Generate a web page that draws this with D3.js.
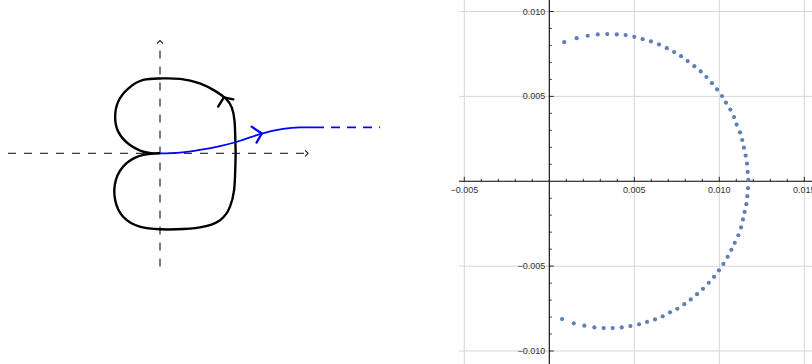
<!DOCTYPE html>
<html>
<head>
<meta charset="utf-8">
<script src="https://cdn.jsdelivr.net/npm/d3@7"></script>
<style>
  body { margin: 0; background: #fff; }
  svg { display: block; }
  .tick-label { font-family: 'Liberation Sans', Arial, sans-serif; font-size: 9px; fill: #333; }
</style>
</head>
<body>
<div id="chart"></div>
<script>
// SVG area dimensions
var svgWidth = 812;
var svgHeight = 364;

// Left sketch: closed black contour (x, y in sketch units)
var contourX = [0, -0.35, -0.79, -1.10, -1.18, -1.10, -0.83, -0.44, 0, 0.53, 1.05, 1.47, 1.74, 1.89, 1.96, 1.98,
  1.99, 1.98, 1.95, 1.84, 1.58, 1.05, 0.44, 0, -0.53, -0.97, -1.18, -1.16, -0.88, -0.44, 0];
var contourY = [0, 0.02, 0.22, 0.57, 0.96, 1.36, 1.71, 1.93, 1.97, 1.96, 1.84, 1.63, 1.43, 1.20, 0.86, 0.44,
  0, -0.44, -0.97, -1.41, -1.76, -1.95, -2.0, -2.0, -1.93, -1.67, -1.23, -0.70, -0.26, -0.04, 0];

// blue path leaving the origin
var pathX = [0, 0.53, 1.05, 1.58, 2.11, 2.68, 3.24, 3.68, 4.08];
var pathY = [0, 0.02, 0.09, 0.19, 0.33, 0.52, 0.64, 0.68, 0.68];
var pathTailX = [4.08, 5.79];
var pathTailY = [0.68, 0.68];

// arrow chevrons (arm, apex, arm)
var contourArrowX = [1.53, 1.68, 1.93];
var contourArrowY = [1.23, 1.47, 1.42];
var pathArrowX = [2.41, 2.68, 2.54];
var pathArrowY = [0.70, 0.52, 0.28];

// sketch axes extent
var sketchAxisX = [-4.0, 3.87];
var sketchAxisY = [-2.98, 2.94];

// Right plot: sampled points
var pointX = [0.00088, 0.00161, 0.00226, 0.00285, 0.00341, 0.00397, 0.00449, 0.00500, 0.00549, 0.00598,
  0.00645, 0.00691, 0.00734, 0.00775, 0.00814, 0.00853, 0.00891, 0.00924, 0.00957, 0.00987,
  0.01016, 0.01039, 0.01065, 0.01087, 0.01102, 0.01122, 0.01135, 0.01145, 0.01155, 0.01163,
  0.01167, 0.01171, 0.01169, 0.01165, 0.01159, 0.01149, 0.01139, 0.01128, 0.01112, 0.01091,
  0.01071, 0.01049, 0.01024, 0.00998, 0.00969, 0.00938, 0.00904, 0.00869, 0.00832, 0.00794,
  0.00753, 0.00710, 0.00667, 0.00622, 0.00575, 0.00528, 0.00477, 0.00426, 0.00373, 0.00320,
  0.00265, 0.00206, 0.00144, 0.00075];
var pointY = [0.00819, 0.00843, 0.00857, 0.00865, 0.00867, 0.00865, 0.00861, 0.00851, 0.00837, 0.00824,
  0.00806, 0.00784, 0.00761, 0.00737, 0.00708, 0.00678, 0.00647, 0.00614, 0.00578, 0.00541,
  0.00502, 0.00463, 0.00422, 0.00378, 0.00334, 0.00288, 0.00243, 0.00198, 0.00151, 0.00104,
  0.00055, 0.00008, -0.00041, -0.00088, -0.00135, -0.00181, -0.00225, -0.00272, -0.00318, -0.00363,
  -0.00404, -0.00445, -0.00487, -0.00525, -0.00563, -0.00598, -0.00634, -0.00665, -0.00696, -0.00724,
  -0.00751, -0.00772, -0.00796, -0.00814, -0.00829, -0.00843, -0.00853, -0.00861, -0.00865, -0.00865,
  -0.00861, -0.00851, -0.00837, -0.00812];

var xTicks = [-0.005, 0.005, 0.010, 0.015];
var yTicks = [-0.010, -0.005, 0.005, 0.010];
var xTickLabels = ['\u22120.005', '0.005', '0.010', '0.015'];
var yTickLabels = ['\u22120.010', '\u22120.005', '0.005', '0.010'];

var svg = d3.select('#chart')
  .append('svg')
  .attr('width', svgWidth)
  .attr('height', svgHeight);

// ---------- left sketch ----------
var sx = d3.scaleLinear().domain([0, 1]).range([160, 198]);
var sy = d3.scaleLinear().domain([0, 1]).range([153.3, 115.3]);

var sketch = svg.append('g');
var dashColor = '#3a3a3a';

// dashed axes
sketch.append('line')
  .attr('x1', sx(sketchAxisX[0])).attr('x2', sx(sketchAxisX[1]))
  .attr('y1', sy(0)).attr('y2', sy(0))
  .attr('stroke', dashColor).attr('stroke-width', 1.3)
  .attr('stroke-dasharray', '8,8');

sketch.append('line')
  .attr('x1', sx(0)).attr('x2', sx(0))
  .attr('y1', sy(sketchAxisY[0])).attr('y2', sy(sketchAxisY[1]) + 6)
  .attr('stroke', dashColor).attr('stroke-width', 1.3)
  .attr('stroke-dasharray', '8,8');

// axis arrow tips
sketch.append('path')
  .attr('d', `M${sx(sketchAxisX[1]) - 2},${sy(0) - 3}L${sx(sketchAxisX[1]) + 1},${sy(0)}L${sx(sketchAxisX[1]) - 2},${sy(0) + 3}`)
  .attr('fill', 'none').attr('stroke', '#222').attr('stroke-width', 1.1);

sketch.append('path')
  .attr('d', `M${sx(0) - 3},${sy(sketchAxisY[1]) + 2}L${sx(0)},${sy(sketchAxisY[1]) - 1}L${sx(0) + 3},${sy(sketchAxisY[1]) + 2}`)
  .attr('fill', 'none').attr('stroke', '#222').attr('stroke-width', 1.1);

var sketchLine = d3.line()
  .x((d) => sx(d[0]))
  .y((d) => sy(d[1]))
  .curve(d3.curveNatural);

var straight = d3.line()
  .x((d) => sx(d[0]))
  .y((d) => sy(d[1]));

// black contour
sketch.append('path')
  .attr('d', sketchLine(d3.zip(contourX, contourY)))
  .attr('fill', 'none')
  .attr('stroke', '#000')
  .attr('stroke-width', 2.4)
  .attr('stroke-linejoin', 'round');

sketch.append('path')
  .attr('d', straight(d3.zip(contourArrowX, contourArrowY)))
  .attr('fill', 'none')
  .attr('stroke', '#000')
  .attr('stroke-width', 2.4)
  .attr('stroke-linecap', 'round')
  .attr('stroke-linejoin', 'round');

// blue path
sketch.append('path')
  .attr('d', sketchLine(d3.zip(pathX, pathY)))
  .attr('fill', 'none')
  .attr('stroke', '#0000ff')
  .attr('stroke-width', 1.8);

sketch.append('path')
  .attr('d', straight(d3.zip(pathTailX, pathTailY)))
  .attr('fill', 'none')
  .attr('stroke', '#0000ff')
  .attr('stroke-width', 1.8)
  .attr('stroke-dasharray', '9,7');

sketch.append('path')
  .attr('d', straight(d3.zip(pathArrowX, pathArrowY)))
  .attr('fill', 'none')
  .attr('stroke', '#0000ff')
  .attr('stroke-width', 2.2)
  .attr('stroke-linecap', 'round')
  .attr('stroke-linejoin', 'round');

// ---------- right plot ----------
var xScale = d3.scaleLinear().domain([-0.005, 0.015]).range([464.3, 804.3]);
var yScale = d3.scaleLinear().domain([-0.010, 0.010]).range([351, 11.5]);
var plotLeft = 459;

var plot = svg.append('g');

// grid
plot.selectAll('.vgrid')
  .data(xTicks)
  .enter()
  .append('line')
  .attr('x1', (d) => xScale(d)).attr('x2', (d) => xScale(d))
  .attr('y1', 0).attr('y2', svgHeight)
  .attr('stroke', '#d6d6d6').attr('stroke-width', 1);

plot.selectAll('.hgrid')
  .data(yTicks)
  .enter()
  .append('line')
  .attr('x1', plotLeft).attr('x2', svgWidth)
  .attr('y1', (d) => yScale(d)).attr('y2', (d) => yScale(d))
  .attr('stroke', '#d6d6d6').attr('stroke-width', 1);

// x axis: minor ticks every 0.001, drawn above the line
var xMinor = d3.range(-5, 16).map((i) => i / 1000).filter((v) => Math.abs(v) > 1e-9);
plot.selectAll('.xtick')
  .data(xMinor)
  .enter()
  .append('line')
  .attr('x1', (d) => xScale(d)).attr('x2', (d) => xScale(d))
  .attr('y1', yScale(0))
  .attr('y2', (d, i) => yScale(0) - (Math.round(d * 1000) % 5 === 0 ? 4.5 : 2.5))
  .attr('stroke', '#000').attr('stroke-width', 0.8);

var yMinor = d3.range(-10, 11).map((i) => i / 1000).filter((v) => Math.abs(v) > 1e-9);
plot.selectAll('.ytick')
  .data(yMinor)
  .enter()
  .append('line')
  .attr('x1', xScale(0))
  .attr('x2', (d) => xScale(0) + (Math.round(d * 1000) % 5 === 0 ? 4.5 : 2.5))
  .attr('y1', (d) => yScale(d)).attr('y2', (d) => yScale(d))
  .attr('stroke', '#000').attr('stroke-width', 0.8);

// axis lines
plot.append('line')
  .attr('x1', plotLeft).attr('x2', svgWidth)
  .attr('y1', yScale(0)).attr('y2', yScale(0))
  .attr('stroke', '#000').attr('stroke-width', 1.1);

plot.append('line')
  .attr('x1', xScale(0)).attr('x2', xScale(0))
  .attr('y1', 0).attr('y2', svgHeight)
  .attr('stroke', '#000').attr('stroke-width', 1.1);

// tick labels
plot.selectAll('.xlab')
  .data(xTicks)
  .enter()
  .append('text')
  .attr('class', 'tick-label')
  .attr('x', (d) => xScale(d))
  .attr('y', yScale(0) + 12)
  .attr('text-anchor', 'middle')
  .text((d, i) => xTickLabels[i]);

plot.selectAll('.ylab')
  .data(yTicks)
  .enter()
  .append('text')
  .attr('class', 'tick-label')
  .attr('x', xScale(0) - 4)
  .attr('y', (d) => yScale(d) + 3)
  .attr('text-anchor', 'end')
  .text((d, i) => yTickLabels[i]);

// points
plot.selectAll('circle')
  .data(d3.zip(pointX, pointY))
  .enter()
  .append('circle')
  .attr('cx', (d) => xScale(d[0]))
  .attr('cy', (d) => yScale(d[1]))
  .attr('r', 2.1)
  .style('fill', '#5e81b5');
</script>
</body>
</html>
